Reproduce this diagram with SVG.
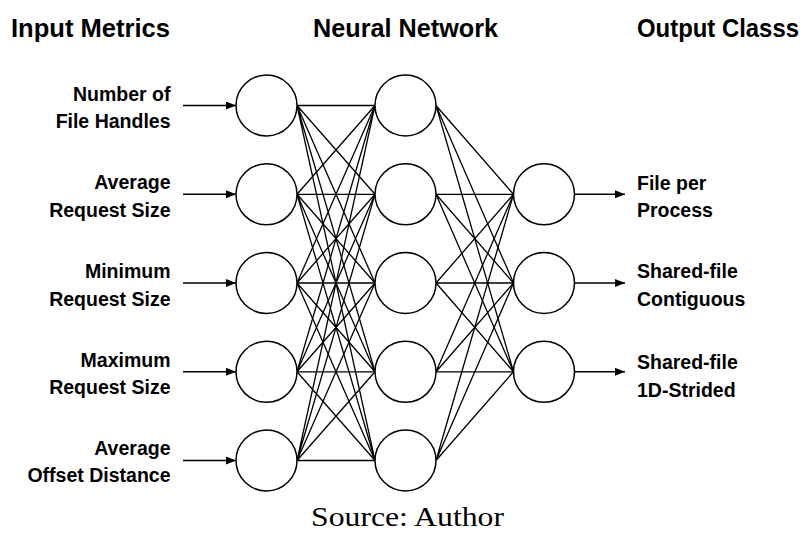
<svg xmlns="http://www.w3.org/2000/svg" width="807" height="533" viewBox="0 0 807 533">
  <defs>
    <marker id="arrow" viewBox="0 0 10 8" refX="10" refY="4" markerWidth="10" markerHeight="8" markerUnits="userSpaceOnUse" orient="auto">
      <path d="M0,0 L10,4 L0,8 Z" fill="#000"/>
    </marker>
    <style>
      .neuron { fill: #fff; stroke: #000; stroke-width: 1.5; }
      .edge { stroke: #000; stroke-width: 1.3; fill: none; }
      .io { stroke: #000; stroke-width: 1.5; fill: none; marker-end: url(#arrow); }
      .title { font-family: "Liberation Sans", Arial, sans-serif; font-weight: bold; font-size: 25px; fill: #000; }
      .lbl { font-family: "Liberation Sans", Arial, sans-serif; font-weight: bold; font-size: 19.5px; fill: #000; }
      .lbl-r { text-anchor: end; }
      .caption { font-family: "Liberation Serif", "Times New Roman", serif; font-size: 28px; fill: #000; }
    </style>
  </defs>

  <!-- column headings -->
  <g id="headings">
    <text class="title" x="11" y="37" textLength="159" lengthAdjust="spacingAndGlyphs">Input Metrics</text>
    <text class="title" x="313" y="37" textLength="185" lengthAdjust="spacingAndGlyphs">Neural Network</text>
    <text class="title" x="637" y="37" font-size="23.5" textLength="162" lengthAdjust="spacingAndGlyphs">Output Classs</text>
  </g>

  <!-- weights: input -> hidden (east anchor to west anchor), hidden -> output -->
  <g id="connectors">
    <g id="input-hidden">
      <path class="edge" d="M297,105.5 L375,105.5 M297,105.5 L375,194.3 M297,105.5 L375,283 M297,105.5 L375,371.8 M297,105.5 L375,460.5"/>
      <path class="edge" d="M297,194.3 L375,105.5 M297,194.3 L375,194.3 M297,194.3 L375,283 M297,194.3 L375,371.8 M297,194.3 L375,460.5"/>
      <path class="edge" d="M297,283 L375,105.5 M297,283 L375,194.3 M297,283 L375,283 M297,283 L375,371.8 M297,283 L375,460.5"/>
      <path class="edge" d="M297,371.8 L375,105.5 M297,371.8 L375,194.3 M297,371.8 L375,283 M297,371.8 L375,371.8 M297,371.8 L375,460.5"/>
      <path class="edge" d="M297,460.5 L375,105.5 M297,460.5 L375,194.3 M297,460.5 L375,283 M297,460.5 L375,371.8 M297,460.5 L375,460.5"/>
    </g>
    <g id="hidden-output">
      <path class="edge" d="M436,105.5 L513.5,194.3 M436,105.5 L513.5,283 M436,105.5 L513.5,371.8"/>
      <path class="edge" d="M436,194.3 L513.5,194.3 M436,194.3 L513.5,283 M436,194.3 L513.5,371.8"/>
      <path class="edge" d="M436,283 L513.5,194.3 M436,283 L513.5,283 M436,283 L513.5,371.8"/>
      <path class="edge" d="M436,371.8 L513.5,194.3 M436,371.8 L513.5,283 M436,371.8 L513.5,371.8"/>
      <path class="edge" d="M436,460.5 L513.5,194.3 M436,460.5 L513.5,283 M436,460.5 L513.5,371.8"/>
    </g>
    <g id="inputs-in">
      <line class="io" x1="183" y1="105.5" x2="236" y2="105.5"/>
      <line class="io" x1="183" y1="194.3" x2="236" y2="194.3"/>
      <line class="io" x1="183" y1="283" x2="236" y2="283"/>
      <line class="io" x1="183" y1="371.8" x2="236" y2="371.8"/>
      <line class="io" x1="183" y1="460.5" x2="236" y2="460.5"/>
    </g>
    <g id="outputs-out">
      <line class="io" x1="574.5" y1="194.3" x2="625" y2="194.3"/>
      <line class="io" x1="574.5" y1="283" x2="625" y2="283"/>
      <line class="io" x1="574.5" y1="371.8" x2="625" y2="371.8"/>
    </g>
  </g>

  <!-- input layer -->
  <g id="in1">
    <circle class="neuron" cx="266.5" cy="105.5" r="30.5"/>
    <text class="lbl lbl-r" x="170.5" y="100.5">Number of</text>
    <text class="lbl lbl-r" x="170.5" y="128">File Handles</text>
  </g>
  <g id="in2">
    <circle class="neuron" cx="266.5" cy="194.3" r="30.5"/>
    <text class="lbl lbl-r" x="170.5" y="189.3">Average</text>
    <text class="lbl lbl-r" x="170.5" y="216.8">Request Size</text>
  </g>
  <g id="in3">
    <circle class="neuron" cx="266.5" cy="283" r="30.5"/>
    <text class="lbl lbl-r" x="170.5" y="278">Minimum</text>
    <text class="lbl lbl-r" x="170.5" y="305.5">Request Size</text>
  </g>
  <g id="in4">
    <circle class="neuron" cx="266.5" cy="371.8" r="30.5"/>
    <text class="lbl lbl-r" x="170.5" y="366.8">Maximum</text>
    <text class="lbl lbl-r" x="170.5" y="394.3">Request Size</text>
  </g>
  <g id="in5">
    <circle class="neuron" cx="266.5" cy="460.5" r="30.5"/>
    <text class="lbl lbl-r" x="170.5" y="454.5">Average</text>
    <text class="lbl lbl-r" x="170.5" y="482">Offset Distance</text>
  </g>

  <!-- hidden layer -->
  <g id="h1"><circle class="neuron" cx="405.5" cy="105.5" r="30.5"/></g>
  <g id="h2"><circle class="neuron" cx="405.5" cy="194.3" r="30.5"/></g>
  <g id="h3"><circle class="neuron" cx="405.5" cy="283" r="30.5"/></g>
  <g id="h4"><circle class="neuron" cx="405.5" cy="371.8" r="30.5"/></g>
  <g id="h5"><circle class="neuron" cx="405.5" cy="460.5" r="30.5"/></g>

  <!-- output layer -->
  <g id="out1">
    <circle class="neuron" cx="544" cy="194.3" r="30.5"/>
    <text class="lbl" x="637" y="189.5">File per</text>
    <text class="lbl" x="637" y="217">Process</text>
  </g>
  <g id="out2">
    <circle class="neuron" cx="544" cy="283" r="30.5"/>
    <text class="lbl" x="637" y="278">Shared-file</text>
    <text class="lbl" x="637" y="305.5">Contiguous</text>
  </g>
  <g id="out3">
    <circle class="neuron" cx="544" cy="371.8" r="30.5"/>
    <text class="lbl" x="637" y="369">Shared-file</text>
    <text class="lbl" x="637" y="396.5">1D-Strided</text>
  </g>

  <text class="caption" x="311" y="525.5" textLength="193" lengthAdjust="spacingAndGlyphs">Source: Author</text>
</svg>
